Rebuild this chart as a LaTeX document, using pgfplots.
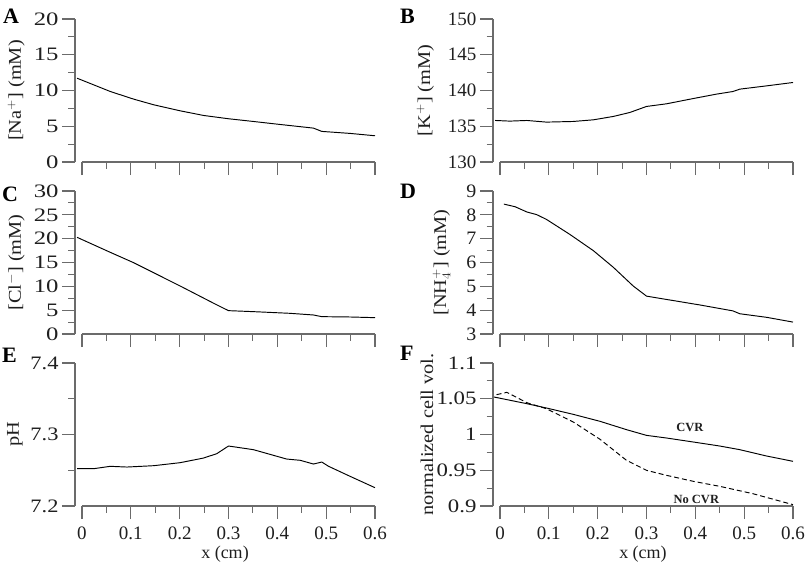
\documentclass[border=0pt]{standalone}
\usepackage{fontspec}
\setmainfont{Liberation Serif}
\usepackage{graphicx}
\usepackage{pgfplots}
\pgfplotsset{compat=1.18}
\definecolor{axgray}{gray}{0.42}
\definecolor{txtgray}{gray}{0.12}
\newcommand{\fsz}{\fontsize{19}{22}\selectfont}
\newcommand{\lsz}{\fontsize{18}{21}\selectfont}
\newcommand{\yl}[1]{\scalebox{1.13}[1]{#1}}
\pgfplotsset{
  panel/.style={
    scale only axis, width=300pt, height=143pt,
    xmin=-0.01433, xmax=0.6,
    axis x line*=bottom, axis y line*=left,
    axis line style={-, draw=axgray, line width=1.1pt},
    x axis line style={shorten <=7pt},
    tick align=outside,
    major tick length=13pt, minor tick length=6.5pt,
    tick style={axgray, line width=1.1pt},
    minor tick num=1,
    xtick={0,0.1,0.2,0.3,0.4,0.5,0.6},
    /pgf/number format/assume math mode=true,
    tick label style={font=\fsz, text=txtgray},
    xticklabel style={yshift=-4pt},
    xlabel style={font=\lsz, text=txtgray},
    clip=false,
  },
  ysc/.style={yticklabel={\scalebox{#1}[1]{\pgfmathprintnumber{\tick}}}},
  ylab/.style={every axis y label/.append style={at={([xshift=-#1]axis description cs:0,0.5)}, anchor=base, font=\lsz, text=txtgray}},
  curve/.style={black, line width=0.95pt, mark=none},
}
\begin{document}
\begin{tikzpicture}
\useasboundingbox (0,-566pt) rectangle (807pt,0);
% A
\begin{axis}[panel, ylab=54pt, ysc=1.3, at={(75pt,-162pt)}, anchor=south west,
  ymin=0, ymax=20, ytick={0,5,10,15,20}, xticklabels={},
  ylabel={\yl{[Na$^{+}$] (mM)}}]
\addplot[curve] coordinates {(-0.01,11.72) (0.058,9.86) (0.106,8.79) (0.147,8.0) (0.201,7.16) (0.249,6.51) (0.30,6.05) (0.351,5.67) (0.399,5.30) (0.474,4.74) (0.491,4.28) (0.549,4.0) (0.6,3.67)};
\end{axis}
% B
\begin{axis}[panel, ylab=63pt, ysc=1.0, at={(493pt,-162pt)}, anchor=south west,
  ymin=130, ymax=150, ytick={130,135,140,145,150}, xticklabels={},
  ylabel={\yl{[K$^{+}$] (mM)}}]
\addplot[curve] coordinates {(-0.01,135.81) (0.02,135.72) (0.055,135.81) (0.095,135.58) (0.15,135.67) (0.191,135.9) (0.232,136.37) (0.266,136.93) (0.30,137.77) (0.341,138.14) (0.396,138.88) (0.443,139.49) (0.477,139.86) (0.491,140.19) (0.546,140.65) (0.6,141.12)};
\end{axis}
% C
\begin{axis}[panel, ylab=54pt, ysc=1.3, at={(75pt,-334pt)}, anchor=south west,
  ymin=0, ymax=30, ytick={0,5,10,15,20,25,30}, xticklabels={},
  ylabel={\yl{[Cl$^{-}$] (mM)}}]
\addplot[curve] coordinates {(-0.01,20.28) (0.058,17.13) (0.106,14.95) (0.201,10.07) (0.27,6.43) (0.30,4.9) (0.351,4.69) (0.426,4.34) (0.474,3.99) (0.491,3.64) (0.549,3.57) (0.6,3.43)};
\end{axis}
% D
\begin{axis}[panel, ylab=47pt, ysc=1.05, at={(493pt,-334pt)}, anchor=south west,
  ymin=3, ymax=9, ytick={3,4,5,6,7,8,9}, xticklabels={},
  ylabel={\yl{[NH$_{4}^{+}$] (mM)}}]
\addplot[curve] coordinates {(0.008,8.45) (0.031,8.34) (0.055,8.12) (0.075,8.01) (0.095,7.81) (0.143,7.18) (0.191,6.50) (0.232,5.80) (0.273,5.01) (0.30,4.59) (0.341,4.45) (0.409,4.22) (0.477,3.97) (0.491,3.85) (0.546,3.70) (0.6,3.50)};
\end{axis}
% E
\begin{axis}[panel, ylab=56pt, ysc=1.18, at={(75pt,-506pt)}, anchor=south west,
  ymin=7.2, ymax=7.4, ytick={7.2,7.3,7.4},
  xlabel={x (cm)}, ylabel={\yl{pH}}]
\addplot[curve] coordinates {(-0.01,7.2522) (0.024,7.2522) (0.058,7.2555) (0.092,7.2545) (0.147,7.2564) (0.201,7.2606) (0.249,7.2671) (0.276,7.2732) (0.30,7.2839) (0.351,7.2788) (0.419,7.2657) (0.447,7.2639) (0.474,7.2587) (0.491,7.2615) (0.505,7.2555) (0.549,7.2415) (0.6,7.2256)};
\end{axis}
% F
\begin{axis}[panel, ylab=60pt, ysc=1.2, at={(493pt,-506pt)}, anchor=south west,
  ymin=0.9, ymax=1.1, ytick={0.9,0.95,1,1.05,1.1},
  xlabel={x (cm)}, ylabel={\yl{normalized cell vol.}}]
\addplot[curve] coordinates {(-0.012,1.0524) (0.055,1.0431) (0.095,1.0371) (0.15,1.0282) (0.205,1.0184) (0.259,1.0068) (0.30,0.9988) (0.341,0.9951) (0.396,0.9895) (0.450,0.9839) (0.491,0.9788) (0.546,0.9699) (0.6,0.9625)};
\addplot[curve, dash pattern=on 5pt off 3pt] coordinates {(-0.007,1.0557) (0.014,1.059) (0.055,1.0445) (0.095,1.0361) (0.15,1.0175) (0.205,0.9932) (0.259,0.9639) (0.30,0.9499) (0.341,0.9429) (0.396,0.9345) (0.45,0.9275) (0.518,0.9172) (0.6,0.9019)};
\node[font=\fontsize{12.5}{14}\selectfont\bfseries, text=txtgray] at (axis cs:0.389,1.0105) {CVR};
\node[font=\fontsize{12.5}{14}\selectfont\bfseries, text=txtgray] at (axis cs:0.402,0.9093) {No CVR};
\end{axis}
% panel letters
\begin{scope}[every node/.style={font=\fontsize{22}{24}\selectfont\bfseries, anchor=base west, inner sep=0pt, text=black}]
\node at (3pt,-23pt) {A};
\node at (400pt,-23pt) {B};
\node at (2pt,-201pt) {C};
\node at (400pt,-198pt) {D};
\node at (2pt,-362pt) {E};
\node at (400pt,-360pt) {F};
\end{scope}
\end{tikzpicture}
\end{document}
